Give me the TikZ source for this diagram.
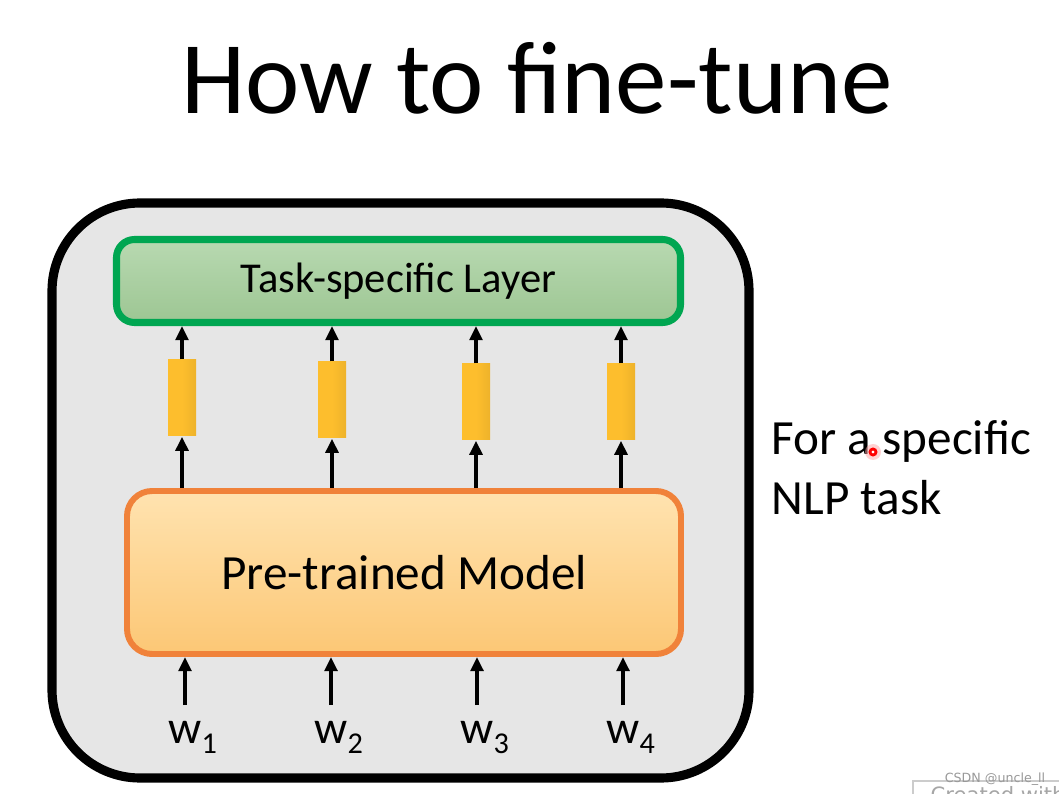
\documentclass[tikz,border=0pt]{standalone}
\usepackage{fontspec}
\setmainfont{Carlito}
\newfontfamily\wmfont{DejaVu Sans}
\usetikzlibrary{arrows.meta}

\definecolor{framegray}{HTML}{E6E6E6}
\definecolor{taskline}{HTML}{00A651}
\definecolor{tasktop}{HTML}{B8D9B1}
\definecolor{taskbot}{HTML}{9DC693}
\definecolor{ptmline}{HTML}{F0823A}
\definecolor{ptmtop}{HTML}{FFE3B0}
\definecolor{ptmbot}{HTML}{FCC775}
\definecolor{barcol}{HTML}{FDBE2D}

\begin{document}
\begin{tikzpicture}[
    x=0.1mm, y=-0.1mm,
    >={Triangle[width=3.6pt,length=4pt]},
    frame/.style={draw=black, line width=2.6pt, fill=framegray, rounded corners=8.8mm,
        minimum width=69.7mm, minimum height=57.5mm},
    tasklayer/.style={draw=taskline, line width=2pt, top color=tasktop, bottom color=taskbot,
        rounded corners=1.8mm, minimum width=56.4mm, minimum height=8.3mm,
        font=\fontsize{12.1}{14}\selectfont},
    model/.style={draw=ptmline, line width=1.7pt, top color=ptmtop, bottom color=ptmbot,
        rounded corners=2.5mm, minimum width=55.4mm, minimum height=16.3mm,
        font=\fontsize{14}{16}\selectfont},
    vec/.style={left color=barcol, right color=barcol!94!black, middle color=barcol,
        minimum width=2.8mm, minimum height=7.6mm, inner sep=0pt},
    word/.style={font=\fontsize{13.2}{15}\selectfont, anchor=base, inner xsep=0pt, inner ysep=1.5mm},
    arr/.style={->, line width=1.1pt}
]
\useasboundingbox (0,0) rectangle (1059,794);
\clip (0,0) rectangle (1059,794);
\fill[white] (0,0) rectangle (1059,794);

% Nodes
\node[font=\fontsize{29.3}{32}\selectfont, anchor=base] (title) at (537,114) {How to fine-tune};
\node[frame] (frame) at (400.5,490.5) {};
\node[tasklayer] (task) at (398.5,281) {Task-specific Layer};
\node[model] (model) at (404,572.5) {Pre-trained Model};
\node[font=\fontsize{14}{17}\selectfont, align=left, anchor=north west, inner sep=0pt] (note)
    at (771,420) {For a specific\\NLP task};

\foreach \i/\bx/\by/\wx in {1/182/398/185, 2/332/400/331, 3/476/402/477, 4/621/402/623} {
    \node[vec] (v\i) at (\bx,\by) {};
    \node[word] (w\i) at (\wx,743) {w\rlap{\raisebox{-1mm}{\fontsize{8.6}{9}\selectfont\i}}};
}

% Edges
\foreach \i in {1,...,4} {
    \draw[arr] (v\i.north) -- (v\i.north |- task.south);
    \draw[arr] (v\i.south |- model.north) -- (v\i.south);
    \draw[arr] (w\i.north) -- (w\i.north |- model.south);
}

% pointer and watermark
\fill[red!35, opacity=0.5] (873,452) circle (0.8mm);
\draw[red, line width=0.8pt, fill=white] (873,452) circle (0.3mm);
\draw[gray!40, fill=white] (913,781) rectangle (1100,850);
\node[font=\wmfont\fontsize{6}{7}\selectfont, text=gray!70, anchor=base west, inner sep=0pt] (made)
    at (930,802) {Created with};
\node[font=\wmfont\fontsize{3.6}{4}\selectfont, text=gray!80, anchor=base, inner sep=0pt] (wm)
    at (995,782) {CSDN @uncle\_ll};
\end{tikzpicture}
\end{document}
